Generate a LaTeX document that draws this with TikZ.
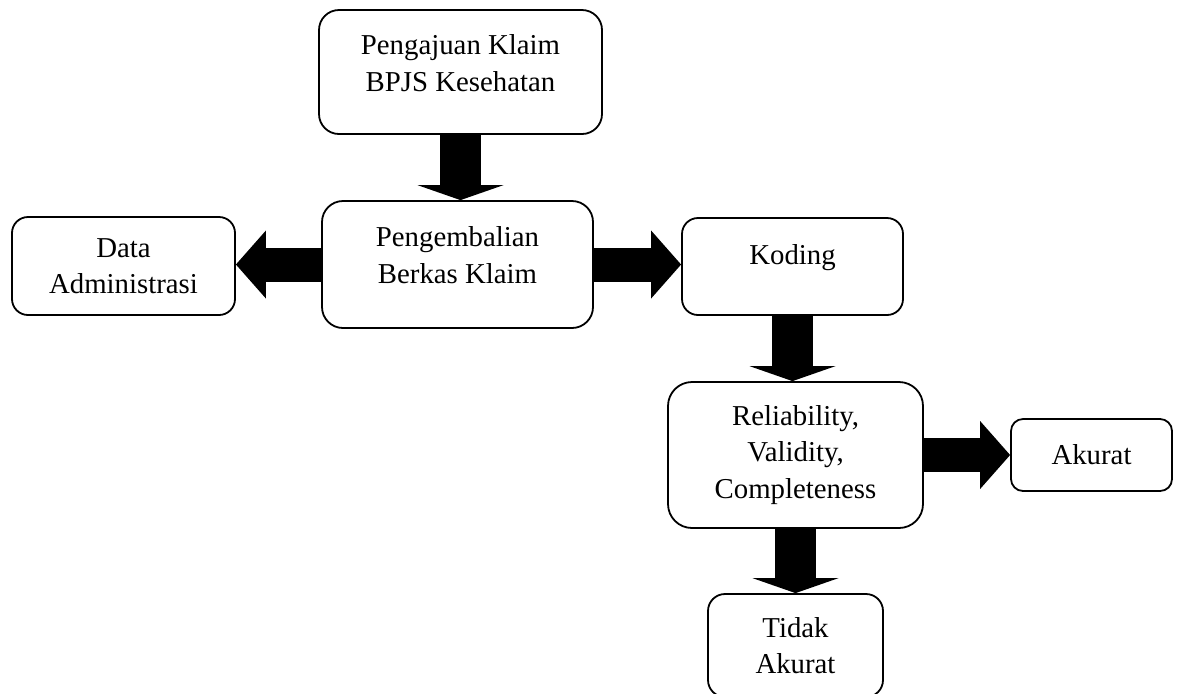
\documentclass[tikz,border=0pt]{standalone}
\usepackage{fontspec}
\setmainfont{Liberation Serif}
\usetikzlibrary{arrows.meta}

% lowers the bottom of a text box, so the text sits higher in its frame
\newcommand{\padbot}[1]{\rule[-#1]{0pt}{#1}}

\tikzset{
  box/.style={draw, line width=0.9pt, align=center, inner sep=0pt,
    font=\fontsize{14.4}{18.3}\selectfont},
  fatdown/.style={line width=20.5pt,
    -{Triangle[width=43pt,length=7.5pt,line width=0pt]}},
  fatside/.style={line width=17pt,
    -{Triangle[width=34pt,length=15pt,line width=0pt]}}
}

\begin{document}
\begin{tikzpicture}[x=0.5pt,y=-0.5pt]
\useasboundingbox (0,0) rectangle (1182,693);

\node[box, rounded corners=10pt, minimum width=141.5pt, minimum height=62pt]
  (claim) at (460.5,72) {Pengajuan Klaim\\BPJS Kesehatan\padbot{9pt}};
\node[box, rounded corners=10.5pt, minimum width=135.5pt, minimum height=63.5pt]
  (returned) at (457.5,264.5) {Pengembalian\\Berkas Klaim\padbot{9.5pt}};
\node[box, rounded corners=8pt, minimum width=111.5pt, minimum height=49pt]
  (admin) at (123.5,266) {Data\\Administrasi};
\node[box, rounded corners=8pt, minimum width=110.5pt, minimum height=48.5pt]
  (coding) at (792.5,266.5) {Koding\padbot{12pt}};
\node[box, rounded corners=12pt, minimum width=127.5pt, minimum height=73pt]
  (check) at (795.5,455) {Reliability,\\Validity,\\Completeness};
\node[box, rounded corners=6pt, minimum width=80.5pt, minimum height=36pt]
  (accurate) at (1091.5,455) {Akurat};
\node[box, rounded corners=8.5pt, minimum width=87.5pt, minimum height=51.5pt]
  (inaccurate) at (795.5,645.5) {Tidak\\Akurat};

% block arrows
\draw[fatdown] (claim.south) -- (claim.south |- returned.north);
\draw[fatside] (returned.west) -- (returned.west -| admin.east);
\draw[fatside] (returned.east) -- (returned.east -| coding.west);
\draw[fatdown] (coding.south) -- (coding.south |- check.north);
\draw[fatside] (check.east) -- (check.east -| accurate.west);
\draw[fatdown] (check.south) -- (check.south |- inaccurate.north);
\end{tikzpicture}
\end{document}
